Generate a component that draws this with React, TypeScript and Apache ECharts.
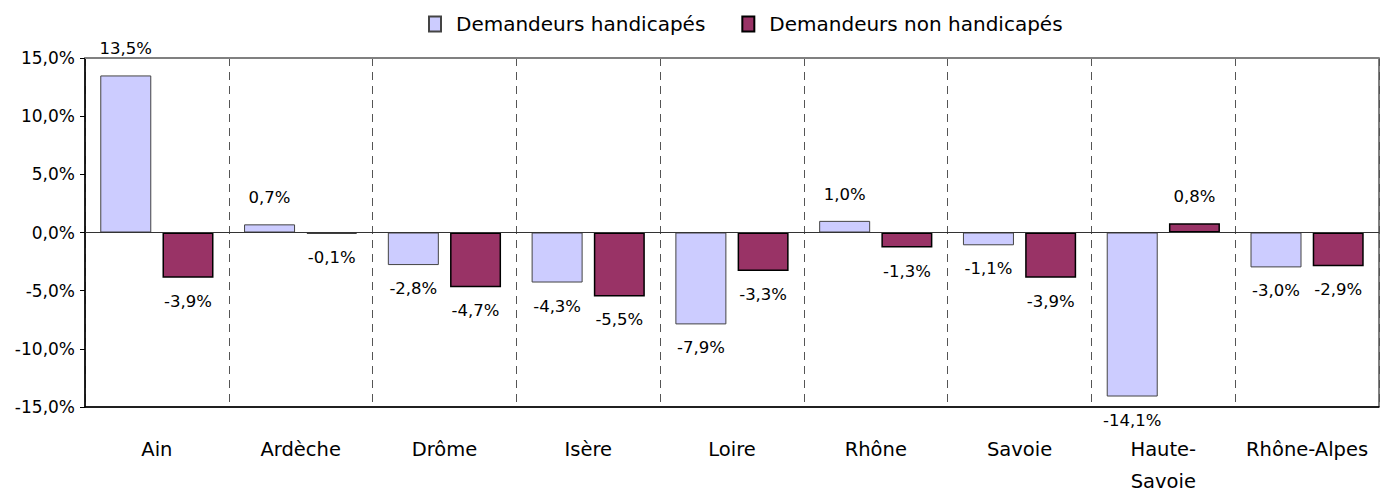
import React, { useEffect, useRef } from "react";
import * as echarts from "echarts";

const categories = ["Ain", "Ardèche", "Drôme", "Isère", "Loire", "Rhône", "Savoie", "Haute-\nSavoie", "Rhône-Alpes"];
const handicapes = [13.5, 0.7, -2.8, -4.3, -7.9, 1.0, -1.1, -14.1, -3.0];
const nonHandicapes = [-3.9, -0.1, -4.7, -5.5, -3.3, -1.3, -3.9, 0.8, -2.9];
const seriesNames = ["Demandeurs handicapés", "Demandeurs non handicapés"];

const FONT = "DejaVu Sans";

const fmt = (v: number) => v.toFixed(1).replace(".", ",") + "%";

function labelled(values: number[]) {
  return values.map((v) => ({
    value: v,
    label: { position: v >= 0 ? "top" : "bottom", distance: v >= 0 ? 18 : 15 },
  }));
}

export default function App() {
  const ref = useRef<HTMLDivElement>(null);
  useEffect(() => {
    const chart = echarts.init(ref.current!, null, { renderer: "svg" });
    const labelStyle = {
      show: true,
      formatter: (p: any) => fmt(p.value),
      fontFamily: FONT,
      fontSize: 16.5,
      color: "#000",
    };
    chart.setOption({
      animation: false,
      backgroundColor: "#fff",
      textStyle: { fontFamily: FONT },
      legend: {
        top: 9,
        left: 423,
        icon: "rect",
        itemWidth: 12,
        itemHeight: 15,
        itemGap: 36,
        textStyle: { fontFamily: FONT, fontSize: 20, color: "#000", padding: [0, 0, 0, 10] },
        data: seriesNames,
      },
      grid: {
        left: 85,
        right: 9,
        top: 58,
        bottom: 86,
        outerBoundsMode: "none",
        containLabel: false,
        show: true,
        borderColor: "#000",
        borderWidth: 1,
      },
      xAxis: [
        {
          type: "category",
          data: categories,
          position: "bottom",
          axisLine: { onZero: false, lineStyle: { color: "#000", width: 1.5 } },
          axisTick: { show: false },
          axisLabel: {
            interval: 0,
            margin: 26,
            fontFamily: FONT,
            fontSize: 19.5,
            color: "#000",
            lineHeight: 32,
          },
          splitLine: {
            show: true,
            interval: 0,
            lineStyle: { color: "#555", type: [8, 6], width: 1 },
          },
        },
        {
          type: "category",
          data: categories,
          position: "top",
          axisLine: { show: true, onZero: false, lineStyle: { color: "#808080", width: 2 } },
          axisTick: { show: false },
          axisLabel: { show: false },
          splitLine: { show: false },
        },
      ],
      yAxis: {
        type: "value",
        min: -15,
        max: 15,
        interval: 5,
        axisLine: { show: true, lineStyle: { color: "#000", width: 1.5 } },
        axisTick: { show: true, length: 5, lineStyle: { color: "#000" } },
        axisLabel: {
          formatter: (v: number) => fmt(v),
          fontFamily: FONT,
          fontSize: 17,
          color: "#000",
          margin: 10,
        },
        splitLine: { show: false },
      },
      series: [
        {
          name: seriesNames[0],
          type: "bar",
          data: labelled(handicapes),
          barWidth: 51,
          barGap: "22%",
          itemStyle: { color: "#ccccff", borderColor: "#444", borderWidth: 1 },
          label: labelStyle,
          markLine: {
            silent: true,
            symbol: "none",
            label: { show: false },
            lineStyle: { color: "#333", type: "solid", width: 1.2 },
            data: [{ yAxis: 0 }],
          },
        },
        {
          name: seriesNames[1],
          type: "bar",
          data: labelled(nonHandicapes),
          barWidth: 51,
          barGap: "22%",
          itemStyle: { color: "#993366", borderColor: "#000", borderWidth: 1.5 },
          label: labelStyle,
        },
      ],
    });
    return () => chart.dispose();
  }, []);
  return (
    <div
      ref={ref}
      style={{ position: "fixed", left: 0, top: 0, width: 1388, height: 493 }}
    />
  );
}
